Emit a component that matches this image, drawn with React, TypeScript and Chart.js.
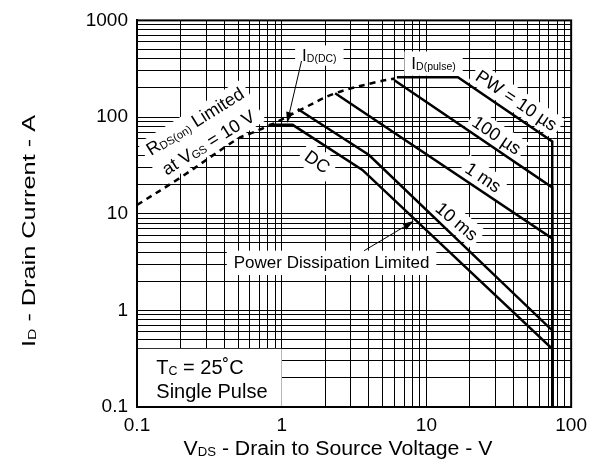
import React, { useEffect, useRef } from 'react';
import { Chart, registerables } from 'chart.js';

Chart.register(...registerables);

// ---- data ----
const rdsV = [0.1, 0.2, 0.5, 0.6, 0.87, 1.32, 2.34, 4.46, 6.0];
const rdsI = [12.3, 23.7, 60, 67, 85, 117, 176, 229, 250];
const dcV = [0.82, 1.19, 3.61, 74, 74];
const dcI = [83, 83, 28.4, 0.4, 0.1];
const ms10V = [1.29, 4.01, 74, 74];
const ms10I = [121, 40.5, 0.62, 0.1];
const ms1V = [2.34, 74, 74];
const ms1I = [176, 5.56, 0.1];
const us100V = [5.97, 74, 74];
const us100I = [242, 18.7, 0.1];
const us10V = [6.25, 16.5, 74, 74];
const us10I = [258, 258, 56, 0.1];

const xDecades = [0.1, 1, 10, 100];
const xDecadeLabels = ['0.1', '1', '10', '100'];
const yDecades = [0.1, 1, 10, 100, 1000];
const yDecadeLabels = ['0.1', '1', '10', '100', '1000'];

type Seg = { t: string; sub?: boolean };

const rdsLabel1: Seg[] = [{ t: 'R' }, { t: 'DS(on)', sub: true }, { t: ' Limited' }];
const rdsLabel2: Seg[] = [{ t: 'at V' }, { t: 'GS', sub: true }, { t: ' = 10 V' }];
const idDcLabel: Seg[] = [{ t: 'I' }, { t: 'D(DC)', sub: true }];
const idPulseLabel: Seg[] = [{ t: 'I' }, { t: 'D(pulse)', sub: true }];
const pw10Label: Seg[] = [{ t: 'PW = 10 µs' }];
const pw100Label: Seg[] = [{ t: '100 µs' }];
const pw1msLabel: Seg[] = [{ t: '1 ms' }];
const pw10msLabel: Seg[] = [{ t: '10 ms' }];
const dcLabel: Seg[] = [{ t: 'DC' }];
const pdLabel: Seg[] = [{ t: 'Power Dissipation Limited' }];
const condLabel1: Seg[] = [{ t: 'T' }, { t: 'C', sub: true }, { t: ' = 25˚C' }];
const condLabel2: Seg[] = [{ t: 'Single Pulse' }];
const xTitle: Seg[] = [{ t: 'V' }, { t: 'DS', sub: true }, { t: ' - Drain to Source Voltage - V' }];
const yTitle: Seg[] = [{ t: 'I' }, { t: 'D', sub: true }, { t: ' - Drain Current - A' }];

// ---- placement of annotations (in data coordinates) ----
const notes = [
  { lines: [rdsLabel1, rdsLabel2], v: 0.279, i: 70.8, rot: -32, size: 18, gap: 25, padX: 5, padY: 2 },
  { lines: [idDcLabel], v: 1.82, i: 438, rot: 0, size: 17, gap: 20, padX: 7, padY: 1 },
  { lines: [idPulseLabel], v: 11.2, i: 362, rot: 0, size: 17, gap: 20, padX: 7, padY: 3 },
  { lines: [pw10Label], v: 42.1, i: 150, rot: 34, size: 18, gap: 20, padX: 4, padY: 2 },
  { lines: [pw100Label], v: 30.7, i: 65.5, rot: 34, size: 18, gap: 20, padX: 4, padY: 2 },
  { lines: [pw1msLabel], v: 24.8, i: 24, rot: 34, size: 18, gap: 20, padX: 4, padY: 2 },
  { lines: [pw10msLabel], v: 16.3, i: 8.4, rot: 40, size: 18, gap: 20, padX: 4, padY: 2 },
  { lines: [dcLabel], v: 1.77, i: 34.8, rot: 35, size: 18, gap: 20, padX: 5, padY: 3 },
  { lines: [pdLabel], v: 2.21, i: 3.14, rot: 0, size: 17, gap: 20, padX: 7, padY: 3 },
];
const arrows = [
  { v1: 1.37, i1: 380, v2: 1.09, i2: 87 },
  { v1: 3.71, i1: 4.14, v2: 8.19, i2: 8.4 },
];
const condBox = { v1: 0.1, v2: 1, i1: 0.1, i2: 0.4, textV: 0.136, line1I: 0.26, line2I: 0.148, size: 20 };

const FONT = '"Liberation Sans", Arial, Helvetica, sans-serif';
const SUB = 0.62;

function fontFor(size: number, sub?: boolean) {
  return `${sub ? (size * SUB).toFixed(1) : size}px ${FONT}`;
}
function measureSegs(ctx: CanvasRenderingContext2D, segs: Seg[], size: number) {
  let w = 0;
  for (const s of segs) {
    ctx.font = fontFor(size, s.sub);
    w += ctx.measureText(s.t).width;
  }
  return w;
}
function drawSegs(ctx: CanvasRenderingContext2D, segs: Seg[], x: number, baseline: number, size: number) {
  let cx = x;
  ctx.textBaseline = 'alphabetic';
  ctx.textAlign = 'left';
  for (const s of segs) {
    ctx.font = fontFor(size, s.sub);
    ctx.fillText(s.t, cx, baseline + (s.sub ? 1 : 0));
    cx += ctx.measureText(s.t).width;
  }
}

function gridValues(decades: number[]) {
  const out: number[] = [];
  for (let d = 0; d < decades.length - 1; d++) {
    for (let k = 1; k < 10; k++) out.push(decades[d] * k);
  }
  out.push(decades[decades.length - 1]);
  return out;
}
function decadeLabel(v: number, decades: number[], labels: string[]) {
  for (let j = 0; j < decades.length; j++) {
    if (Math.abs(v - decades[j]) / decades[j] < 1e-6) return labels[j];
  }
  return '';
}

const soaPlugin = {
  id: 'soaNotes',
  beforeDatasetsDraw(chart: any) {
    const ctx: CanvasRenderingContext2D = chart.ctx;
    const xs = chart.scales.x;
    const ys = chart.scales.y;
    ctx.save();
    ctx.fillStyle = '#000';
    for (const n of notes) {
      const px = xs.getPixelForValue(n.v);
      const py = ys.getPixelForValue(n.i);
      ctx.save();
      ctx.translate(px, py);
      ctx.rotate((n.rot * Math.PI) / 180);
      const widths = n.lines.map((l) => measureSegs(ctx, l, n.size));
      const maxW = Math.max(...widths);
      const capH = n.size * 0.78;
      const totalH = (n.lines.length - 1) * n.gap + capH;
      ctx.fillStyle = '#fff';
      ctx.fillRect(-maxW / 2 - n.padX, -totalH / 2 - n.padY - 2, maxW + 2 * n.padX, totalH + 2 * n.padY + 5);
      ctx.fillStyle = '#000';
      n.lines.forEach((l, k) => {
        const cy = -((n.lines.length - 1) * n.gap) / 2 + k * n.gap;
        drawSegs(ctx, l, -widths[k] / 2, cy + n.size * 0.36, n.size);
      });
      ctx.restore();
    }
    // conditions box
    const bx1 = xs.getPixelForValue(condBox.v1);
    const bx2 = xs.getPixelForValue(condBox.v2);
    const by1 = ys.getPixelForValue(condBox.i2);
    const by2 = ys.getPixelForValue(condBox.i1);
    ctx.fillStyle = '#fff';
    ctx.fillRect(bx1, by1, bx2 - bx1, by2 - by1);
    ctx.fillStyle = '#000';
    const tx = xs.getPixelForValue(condBox.textV);
    drawSegs(ctx, condLabel1, tx, ys.getPixelForValue(condBox.line1I) + condBox.size * 0.36, condBox.size);
    drawSegs(ctx, condLabel2, tx, ys.getPixelForValue(condBox.line2I) + condBox.size * 0.36, condBox.size);
    ctx.restore();
  },
  afterDatasetsDraw(chart: any) {
    const ctx: CanvasRenderingContext2D = chart.ctx;
    const xs = chart.scales.x;
    const ys = chart.scales.y;
    ctx.save();
    ctx.strokeStyle = '#000';
    ctx.fillStyle = '#000';
    ctx.lineWidth = 1;
    for (const a of arrows) {
      const x1 = xs.getPixelForValue(a.v1);
      const y1 = ys.getPixelForValue(a.i1);
      const x2 = xs.getPixelForValue(a.v2);
      const y2 = ys.getPixelForValue(a.i2);
      const ang = Math.atan2(y2 - y1, x2 - x1);
      const hl = 11;
      const hw = 3.5;
      const bx = x2 - hl * Math.cos(ang);
      const by = y2 - hl * Math.sin(ang);
      ctx.beginPath();
      ctx.moveTo(x1, y1);
      ctx.lineTo(bx, by);
      ctx.stroke();
      ctx.beginPath();
      ctx.moveTo(x2, y2);
      ctx.lineTo(bx + hw * Math.sin(ang), by - hw * Math.cos(ang));
      ctx.lineTo(bx - hw * Math.sin(ang), by + hw * Math.cos(ang));
      ctx.closePath();
      ctx.fill();
    }
    const ca = chart.chartArea;
    ctx.lineWidth = 2;
    ctx.strokeRect(ca.left, ca.top, ca.right - ca.left, ca.bottom - ca.top);
    ctx.restore();
  },
  afterDraw(chart: any) {
    const ctx: CanvasRenderingContext2D = chart.ctx;
    ctx.save();
    ctx.fillStyle = '#000';
    // x title
    {
      const size = 20;
      const w = measureSegs(ctx, xTitle, size);
      const target = 309;
      const sx = target / w;
      ctx.save();
      ctx.translate(338, 448);
      ctx.scale(sx, 1);
      drawSegs(ctx, xTitle, -w / 2, size * 0.36, size);
      ctx.restore();
    }
    // y title
    {
      const size = 18;
      const w = measureSegs(ctx, yTitle, size);
      const target = 232;
      const sx = target / w;
      ctx.save();
      ctx.translate(29, 231);
      ctx.rotate(-Math.PI / 2);
      ctx.scale(sx, 1);
      drawSegs(ctx, yTitle, -w / 2, size * 0.36, size);
      ctx.restore();
    }
    ctx.restore();
  },
};

function series(vs: number[], is: number[]) {
  return vs.map((v, k) => ({ x: v, y: is[k] }));
}

export default function App() {
  const ref = useRef<HTMLCanvasElement | null>(null);
  useEffect(() => {
    if (!ref.current) return;
    const solid = { borderColor: '#000', borderWidth: 2.5, pointRadius: 0, fill: false, tension: 0 };
    const chart = new Chart(ref.current, {
      type: 'line',
      data: {
        datasets: [
          { label: 'RDS(on) Limited', data: series(rdsV, rdsI), borderColor: '#000', borderWidth: 2.5, borderDash: [6, 5], pointRadius: 0, fill: false, tension: 0.35 } as any,
          { label: 'DC', data: series(dcV, dcI), ...solid },
          { label: '10 ms', data: series(ms10V, ms10I), ...solid },
          { label: '1 ms', data: series(ms1V, ms1I), ...solid },
          { label: '100 µs', data: series(us100V, us100I), ...solid },
          { label: 'PW = 10 µs', data: series(us10V, us10I), ...solid },
        ],
      },
      options: {
        animation: false,
        responsive: false,
        maintainAspectRatio: false,
        layout: { padding: { left: 0, top: 18, right: 21, bottom: 0 } },
        plugins: { legend: { display: false }, tooltip: { enabled: false }, title: { display: false } },
        scales: {
          x: {
            type: 'logarithmic',
            min: 0.1,
            max: 100,
            grid: { color: '#000', lineWidth: 1, drawTicks: false },
            border: { display: true, color: '#000', width: 2 },
            ticks: {
              color: '#000',
              font: { family: FONT, size: 19 },
              padding: 7,
              autoSkip: false,
              maxRotation: 0,
              minRotation: 0,
              callback: (v: any) => decadeLabel(Number(v), xDecades, xDecadeLabels),
            },
            afterBuildTicks: (s: any) => {
              s.ticks = gridValues(xDecades).map((v) => ({ value: v }));
            },
            afterFit: (s: any) => {
              s.height = 52;
            },
          },
          y: {
            type: 'logarithmic',
            min: 0.1,
            max: 1000,
            grid: { color: '#000', lineWidth: 1, drawTicks: false },
            border: { display: true, color: '#000', width: 2 },
            ticks: {
              color: '#000',
              font: { family: FONT, size: 19 },
              padding: 9,
              autoSkip: false,
              callback: (v: any) => decadeLabel(Number(v), yDecades, yDecadeLabels),
            },
            afterBuildTicks: (s: any) => {
              s.ticks = gridValues(yDecades).map((v) => ({ value: v }));
            },
            afterFit: (s: any) => {
              s.width = 137;
            },
          },
        },
      },
      plugins: [soaPlugin],
    } as any);
    return () => chart.destroy();
  }, []);
  return (
    <div style={{ position: 'absolute', left: 0, top: 0, width: 594, height: 459, background: '#fff' }}>
      <canvas ref={ref} width={594} height={459} style={{ display: 'block' }} />
    </div>
  );
}
